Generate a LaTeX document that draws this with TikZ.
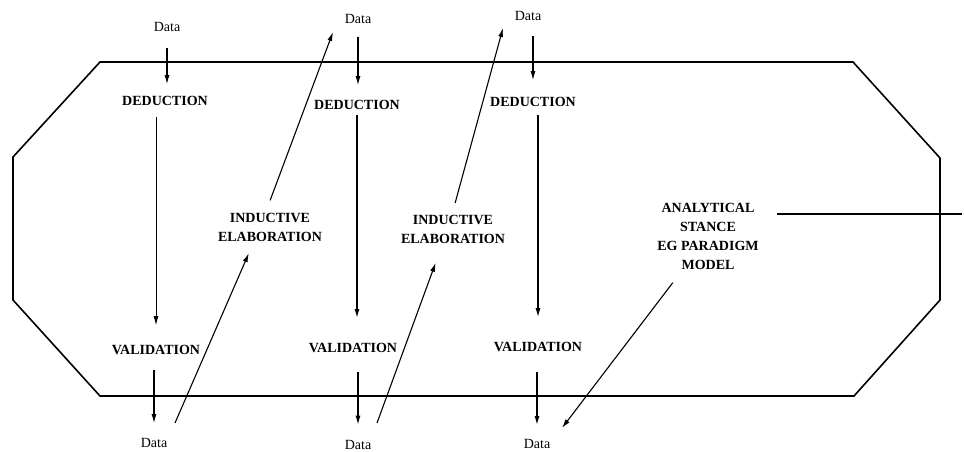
\documentclass[tikz,border=0pt]{standalone}
\usepackage{fontspec}
\setmainfont{Liberation Serif}
\usetikzlibrary{arrows.meta}
\begin{document}
\begin{tikzpicture}[x=1pt,y=-1pt,
  stage/.style={font=\bfseries\fontsize{14}{19}\selectfont, inner sep=0pt,
                text height=9.3pt, text depth=0pt},
  datum/.style={font=\fontsize{14}{17}\selectfont, inner sep=0pt,
                text height=9.3pt, text depth=0pt},
  block/.style={font=\bfseries\fontsize{14}{19}\selectfont, inner sep=0pt, align=center},
  frame/.style={line width=1.6pt, line join=miter},
  flow/.style={line width=1.1pt, -{Latex[length=9pt,width=5pt]}},
]
\useasboundingbox (0,0) rectangle (964,451);

% octagonal boundary
\draw[frame] (100,62) -- (853,62) -- (940,158) -- (940,300) -- (854,396)
  -- (100,396) -- (13,300) -- (13,157) -- cycle;

% first cycle
\node[datum] (d1t) at (167,27) {Data};
\node[stage] (ded1) at (165,101) {DEDUCTION};
\node[stage] (val1) at (156,350) {VALIDATION};
\node[datum] (d1b) at (154,443) {Data};

% second cycle
\node[datum] (d2t) at (358,19) {Data};
\node[stage] (ded2) at (357,105) {DEDUCTION};
\node[stage] (val2) at (353,348) {VALIDATION};
\node[datum] (d2b) at (358,444.5) {Data};

% third cycle
\node[datum] (d3t) at (528,16) {Data};
\node[stage] (ded3) at (533,102) {DEDUCTION};
\node[stage] (val3) at (538,347) {VALIDATION};
\node[datum] (d3b) at (537,444) {Data};

% elaboration and stance labels
\node[block] (ind1) at (270,227.5) {INDUCTIVE\\ELABORATION};
\node[block] (ind2) at (453,229) {INDUCTIVE\\ELABORATION};
\node[block] (ana) at (708,236.5) {ANALYTICAL\\STANCE\\EG PARADIGM\\MODEL};

% free ends
\coordinate (i1lo) at (175,423);
\coordinate (i1hi) at (333,32);
\coordinate (i2lo) at (377,423);
\coordinate (i2hi) at (503,28);
\coordinate (amtip) at (562,428);
\coordinate (hrend) at (962,214);

% vertical flows, first cycle
\draw[flow, shorten <=16pt, shorten >=12pt] (d1t.south) -- (d1t.south |- ded1.north);
\draw[flow, line width=0.9pt, shorten <=11pt, shorten >=20pt] (ded1.south -| val1) -- (val1.north);
\draw[flow, shorten <=15pt, shorten >=15pt] (val1.south -| d1b) -- (d1b.north);

% vertical flows, second cycle
\draw[flow, shorten <=13pt, shorten >=15pt] (d2t.south) -- (d2t.south |- ded2.north);
\draw[flow, line width=1.5pt, shorten <=5pt, shorten >=25pt] (ded2.south) -- (ded2.south |- val2.north);
\draw[flow, shorten <=19pt, shorten >=15pt] (val2.south -| d2b) -- (d2b.north);

% vertical flows, third cycle
\draw[flow, shorten <=15pt, shorten >=17pt] (d3t.south -| ded3) -- (ded3.north);
\draw[flow, line width=1.3pt, shorten <=8pt, shorten >=25pt] (ded3.south -| val3) -- (val3.north);
\draw[flow, line width=1.5pt, shorten <=20pt, shorten >=14pt] (val3.south -| d3b) -- (d3b.north);

% inductive elaboration paths
\draw[flow, shorten >=28pt] (i1lo) -- ([xshift=-10pt]ind1.center);
\draw[flow, shorten <=29pt] ([xshift=-10pt]ind1.center) -- (i1hi);
\draw[flow, shorten >=36pt] (i2lo) -- ([xshift=-5pt]ind2.center);
\draw[flow, shorten <=27pt] ([xshift=-5pt]ind2.center) -- (i2hi);

% analytical stance
\draw[flow, shorten <=58pt] (ana.center) -- (amtip);
\draw[line width=1.2pt, shorten <=18pt] (hrend -| ana.east) -- (hrend);
\end{tikzpicture}
\end{document}
